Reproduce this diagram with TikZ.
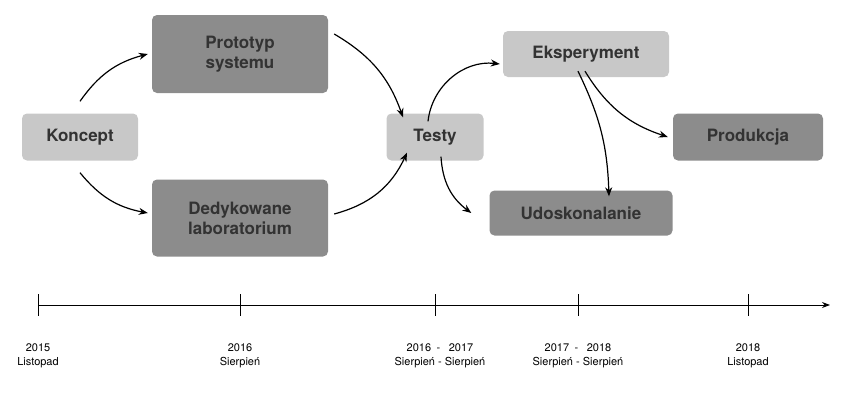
\documentclass[tikz,border=0pt]{standalone}
\usepackage{fontspec}
\setmainfont{TeX Gyre Heros}
\usetikzlibrary{arrows.meta}
\definecolor{lightbox}{HTML}{C8C8C8}
\definecolor{darkbox}{HTML}{8C8C8C}
\definecolor{boxtext}{HTML}{333333}
\begin{document}
\begin{tikzpicture}[x=1pt,y=-1pt,
    stage/.style={rounded corners=5pt, align=center, text=boxtext,
      font=\fontsize{17}{20}\selectfont\bfseries, inner sep=0pt},
    lightstage/.style={stage, fill=lightbox},
    darkstage/.style={stage, fill=darkbox},
    flow/.style={-{Stealth[length=9pt,width=7pt]}, line width=1.2pt},
    datelabel/.style={align=center, font=\fontsize{11}{14}\selectfont}]
  \useasboundingbox (0,0) rectangle (844,402);

  \node[lightstage, minimum width=116, minimum height=47] (koncept) at (80,137) {Koncept};
  \node[darkstage, minimum width=176, minimum height=78] (proto) at (240,54) {Prototyp\\systemu};
  \node[darkstage, minimum width=176, minimum height=77] (lab) at (240,218) {Dedykowane\\laboratorium};
  \node[lightstage, minimum width=97, minimum height=47] (testy) at (435,137) {Testy};
  \node[lightstage, minimum width=166, minimum height=46] (eksp) at (586,54) {Eksperyment};
  \node[darkstage, minimum width=183, minimum height=45] (udosk) at (581,213) {Udoskonalanie};
  \node[darkstage, minimum width=150, minimum height=47] (prod) at (748,137) {Produkcja};

  \draw[flow] (koncept.north) ++(0,-12) to[bend left=20] ([xshift=-4]proto.west);
  \draw[flow] (koncept.south) ++(0,12) to[bend right=20] ([xshift=-4,yshift=5]lab.west);
  \draw[flow] ([xshift=6,yshift=20]proto.east) to[bend left=20] ([xshift=-32,yshift=-4]testy.north);
  \draw[flow] ([xshift=6,yshift=4]lab.east) to[bend right=25] ([xshift=-28,yshift=8]testy.south);
  \draw[flow] ([xshift=-7,yshift=-8]testy.north) to[bend left=45] ([xshift=-3,yshift=-10]eksp.west);
  \draw[flow] ([xshift=6,yshift=4]testy.south) to[bend right=25] ([xshift=-18]udosk.west);
  \draw[flow] ([xshift=-8,yshift=6]eksp.south) to[bend left=12] ([xshift=28,yshift=-6]udosk.north);
  \draw[flow] ([xshift=-1,yshift=6]eksp.south) to[bend right=20] ([xshift=-5]prod.west);

  % timeline
  \coordinate (tstart) at (38,305);
  \coordinate (tend) at (830,305);
  \draw[line width=1pt, -{Stealth[length=8pt,width=6pt]}] (tstart) -- (tend);
  \foreach \x/\name in {38/a,240/b,435/c,578/d,748/e}
    \draw[line width=1pt] (\x,294) -- (\x,316) coordinate (tick\name);
  \node[datelabel] (da) at (38,356) {2015\\Listopad};
  \node[datelabel] (db) at (240,356) {2016\\Sierpień};
  \node[datelabel] (dc) at (440,356) {2016\enspace - \enspace 2017\\Sierpień - Sierpień};
  \node[datelabel] (dd) at (578,356) {2017\enspace - \enspace 2018\\Sierpień - Sierpień};
  \node[datelabel] (de) at (748,356) {2018\\Listopad};
\end{tikzpicture}
\end{document}
